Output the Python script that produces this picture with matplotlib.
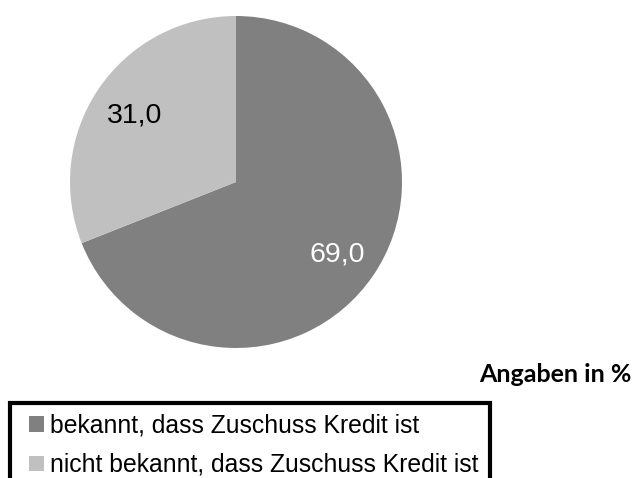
import matplotlib
matplotlib.use("Agg")
import matplotlib.pyplot as plt
from matplotlib.legend_handler import HandlerPatch
from matplotlib.patches import Rectangle

categories = ["bekannt, dass Zuschuss Kredit ist", "nicht bekannt, dass Zuschuss Kredit ist"]
values = [69.0, 31.0]
colors = ["#808080", "#c0c0c0"]
label_colors = ["white", "black"]
note = "Angaben in %"

W, H = 635, 478
fig = plt.figure(figsize=(W / 100, H / 100), dpi=100)
fig.patch.set_facecolor("white")

cx, cy, r = 236, 182, 166
ax = fig.add_axes([(cx - r) / W, 1 - (cy + r) / H, 2 * r / W, 2 * r / H])
wedges, texts, autotexts = ax.pie(
    values, colors=colors, startangle=90, counterclock=False,
    autopct=lambda p: f"{p:.1f}".replace(".", ","), pctdistance=0.74,
    wedgeprops=dict(linewidth=0),
    textprops=dict(fontsize=20.5, family="Liberation Sans"))
for t, c in zip(autotexts, label_colors):
    t.set_color(c)
    t.set_verticalalignment("center_baseline")
ax.set_xlim(-1, 1)
ax.set_ylim(-1, 1)
ax.set_aspect("equal")
ax.axis("off")

fig.text(632 / W, 1 - 375 / H, note, ha="right", va="center",
         fontsize=18, fontweight="bold", family="Lato")


def square(legend, orig_handle, xdescent, ydescent, width, height, fontsize):
    s = height
    return Rectangle((width - s - xdescent, -ydescent), s, s)


leg = fig.legend(wedges, categories, loc="upper left",
                 bbox_to_anchor=(9.5 / W, 1 - 402.5 / H),
                 frameon=True, fancybox=False, shadow=False, framealpha=1,
                 prop=dict(family="Liberation Sans", size=17.8),
                 handler_map={w: HandlerPatch(patch_func=square) for w in wedges},
                 handlelength=0.95, handleheight=0.57, handletextpad=0.24,
                 borderpad=0.45, labelspacing=0.62, borderaxespad=0)
frame = leg.get_frame()
frame.set_edgecolor("black")
frame.set_linewidth(3)
frame.set_facecolor("white")

fig.savefig("out.png", dpi=100)
